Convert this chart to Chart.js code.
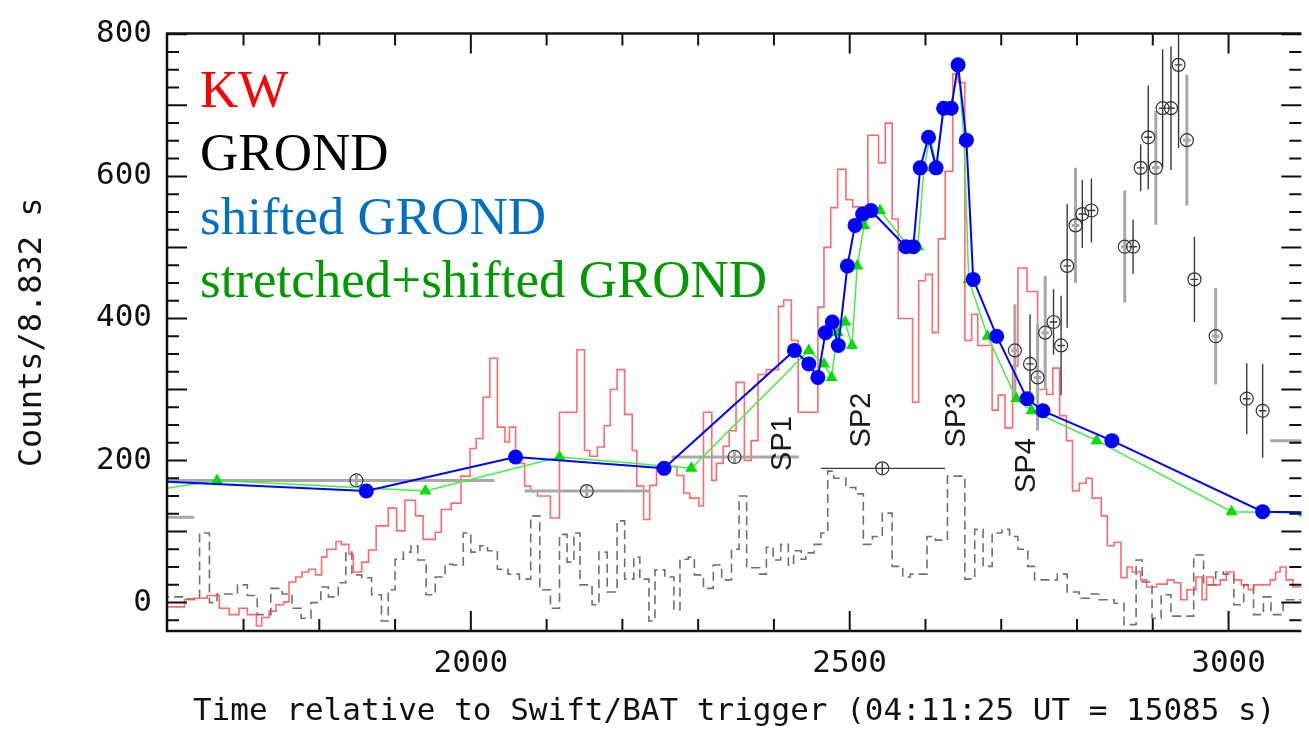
<!DOCTYPE html>
<html>
<head>
<meta charset="utf-8">
<title>KW / GROND light curve</title>
<script src="https://cdn.jsdelivr.net/npm/chart.js@4.4.1/dist/chart.umd.min.js"></script>
<style>
  html, body { margin: 0; padding: 0; background: #fff; }
  #wrap { width: 1309px; height: 731px; }
</style>
</head>
<body>
<div id="wrap"><canvas id="chart" width="1309" height="731"></canvas></div>
<script>
'use strict';

// ---- Axis ranges and tick labels ----
var X_MIN = 1599, X_MAX = 3096;
var Y_MIN = -40, Y_MAX = 801;
var xTickValues = [2000, 2500, 3000];
var yTickValues = [0, 200, 400, 600, 800];
var xTitle = 'Time relative to Swift/BAT trigger (04:11:25 UT = 15085 s)';
var yTitle = 'Counts/8.832 s';

// ---- KW light curve (step histogram: bin start time, counts) ----
var kwT = [1590, 1622, 1635, 1652, 1668, 1681, 1694, 1705, 1717, 1724,
           1734, 1743, 1753, 1760, 1769, 1777, 1786, 1795, 1803, 1810,
           1822, 1829, 1839, 1845, 1856, 1865, 1875, 1891, 1902, 1913,
           1927, 1937, 1953, 1961, 1974, 1987, 1999, 2007, 2016, 2025,
           2035, 2045, 2051, 2059, 2071, 2079, 2088, 2105, 2117, 2140,
           2150, 2157, 2167, 2176, 2184, 2193, 2203, 2213, 2219, 2228,
           2236, 2245, 2272, 2281, 2289, 2301, 2307, 2318, 2324, 2333,
           2341, 2350, 2361, 2370, 2379, 2390, 2406, 2413, 2423, 2432,
           2458, 2466, 2475, 2484, 2495, 2504, 2524, 2538, 2547, 2556,
           2564, 2583, 2591, 2600, 2609, 2617, 2626, 2636, 2643, 2652,
           2661, 2669, 2688, 2696, 2705, 2715, 2722, 2734, 2748, 2760,
           2768, 2777, 2786, 2794, 2803, 2812, 2820, 2832, 2840, 2849,
           2858, 2866, 2873, 2884, 2892, 2905, 2919, 2928, 2937, 2945,
           2957, 2965, 2971, 2980, 2989, 2997, 3007, 3017, 3026, 3033,
           3055, 3062, 3068, 3076, 3085, 3110];
var kwV = [-6, 4, 6, 10, -8, -17, -8, -17, -33, -21,
           -12, -3, 1, 29, 36, 43, 47, 39, 64, 75,
           86, 82, 68, 43, 57, 74, 108, 133, 101, 144,
           122, 89, 99, 131, 140, 178, 217, 231, 289, 344,
           247, 226, 247, 196, 164, 157, 150, 119, 268, 356,
           214, 206, 219, 249, 300, 328, 265, 214, 164, 117,
           165, 192, 179, 154, 147, 136, 268, 172, 196, 220,
           242, 310, 200, 228, 321, 328, 417, 426, 369, 268,
           416, 500, 556, 610, 567, 557, 658, 619, 675, 540,
           400, 282, 453, 462, 380, 512, 607, 744, 732, 369,
           406, 362, 271, 292, 246, 333, 471, 438, 300, 293,
           330, 263, 228, 157, 168, 175, 147, 122, 80, 85,
           35, 50, 43, 32, 22, 26, 32, 28, 4, 18,
           36, 4, 36, 25, 32, 43, 32, 25, 18, 25,
           32, 43, 50, 32, 22, 22];

// ---- Dashed grey histogram (bin start time, counts) ----
var dashT = [1590, 1622, 1642, 1655, 1665, 1692, 1705, 1718, 1736, 1751,
             1764, 1776, 1789, 1802, 1812, 1825, 1835, 1843, 1856, 1869,
             1882, 1891, 1900, 1911, 1921, 1930, 1941, 1953, 1966, 1976,
             1990, 2000, 2012, 2022, 2035, 2049, 2064, 2079, 2091, 2105,
             2117, 2127, 2136, 2144, 2160, 2169, 2180, 2193, 2203, 2215,
             2223, 2235, 2243, 2256, 2268, 2276, 2287, 2295, 2307, 2320,
             2331, 2344, 2354, 2364, 2381, 2390, 2399, 2409, 2419, 2426,
             2436, 2442, 2453, 2462, 2471, 2479, 2495, 2508, 2518, 2530,
             2543, 2556, 2570, 2580, 2602, 2613, 2629, 2652, 2665, 2676,
             2688, 2701, 2711, 2722, 2735, 2744, 2774, 2787, 2803, 2816,
             2829, 2849, 2862, 2878, 2886, 2899, 2911, 2924, 2954, 2967,
             2983, 2993, 3007, 3020, 3033, 3046, 3056, 3072, 3110];
var dashV = [8, 5, 98, 0, 12, 25, 10, -17, 20, 12,
             -8, -22, 0, 22, 8, 28, 71, 39, 35, 11,
             -26, 18, 61, 71, 80, 60, 11, 36, 54, 53,
             98, 71, 80, 73, 47, 40, 33, 122, 18, -8,
             96, 57, 98, 25, -3, 71, 15, 115, 33, 64,
             33, -26, 46, 36, -10, 61, 64, 39, 20, 53,
             32, 75, 150, 49, 40, 78, 60, 82, 53, 73,
             61, 70, 82, 98, 185, 175, 162, 153, 82, 93,
             126, 51, 36, 40, 93, 88, 178, 33, 103, 51,
             98, 103, 93, 75, 51, 32, 40, 15, 6, 12,
             4, -1, -31, 60, 29, -22, 11, -19, 67, 25,
             43, 40, -3, 25, -17, 8, -17, 4, 4];

// ---- GROND points (time, flux, errors, bar style) ----
var grondT = [1500, 1849, 2153, 2348, 2543, 2718, 2738, 2748, 2758, 2769,
              2779, 2787, 2798, 2807, 2819, 2863, 2874, 2884, 2894, 2904,
              2913, 2924, 2934, 2945, 2955, 2983, 3024, 3045, 3136, 3335, 3440];
var grondV = [120, 172, 157, 205, 189, 355, 336, 317, 380, 395,
              362, 474, 531, 547, 552, 501, 501, 612, 655, 612,
              696, 696, 757, 651, 455, 375, 287, 270, 228, 128, 126];
var grondTLo = [135, 260, 82, 83, 81, 5, 5, 5, 5, 5,
                5, 5, 5, 5, 5, 5, 5, 5, 5, 5,
                5, 5, 5, 5, 5, 5, 5, 5, 81, 0, 0];
var grondTHi = [135, 182, 83, 85, 83, 5, 5, 5, 5, 5,
                5, 5, 5, 5, 5, 5, 5, 5, 5, 5,
                5, 5, 5, 5, 5, 5, 5, 5, 81, 0, 0];
var grondErrV = [0, 8, 8, 8, 8, 65, 70, 75, 80, 46,
                 70, 87, 81, 48, 45, 79, 38, 33, 73, 80,
                 83, 87, 117, 92, 60, 68, 50, 66, 0, 0, 0];
var grondBar = ['g', 'g', 'g', 'g', 'k', 'g', 'k', 'g', 'g', 'k',
                'k', 'k', 'g', 'k', 'k', 'g', 'k', 'k', 'k', 'g',
                'k', 'k', 'k', 'g', 'k', 'g', 'k', 'k', 'g', 'k', 'k'];

// ---- Shifted and stretched+shifted GROND times ----
var shiftedT = [1210, 1559, 1862, 2059, 2255, 2427, 2446, 2458, 2468, 2477,
                2485, 2497, 2507, 2517, 2528, 2574, 2584, 2593, 2604, 2614,
                2624, 2634, 2643, 2654, 2663, 2694, 2734, 2755, 2846, 3045, 3150];
var stretchedT = [1350, 1665, 1940, 2117, 2291, 2446, 2466, 2476, 2484, 2494,
                  2503, 2510, 2519, 2528, 2540, 2578, 2590, 2598, 2606, 2615,
                  2623, 2633, 2643, 2651, 2657, 2682, 2720, 2740, 2826, 3004, 3100];

// ---- Spike labels ----
var spLabels = ['SP1', 'SP2', 'SP3', 'SP4'];
var spT = [2412, 2516, 2642, 2734];
var spV = [224, 257, 257, 193];

// ---- Legend lines ----
var legendText = ['KW', 'GROND', 'shifted GROND', 'stretched+shifted GROND'];
var legendColor = ['#ff0000', '#000000', '#0070c0', '#009a00'];

function pts(ts, vs) {
  return ts.map(function(t, i) { return { x: t, y: vs[i] }; });
}

function clipArea(ctx, a) {
  ctx.beginPath();
  ctx.rect(a.left, a.top, a.right - a.left, a.bottom - a.top);
  ctx.clip();
}

function drawErrorBars(chart) {
  var ctx = chart.ctx, xs = chart.scales.x, ys = chart.scales.y;
  ctx.save();
  clipArea(ctx, chart.chartArea);
  grondT.forEach(function(t, i) {
    var gray = grondBar[i] === 'g';
    ctx.strokeStyle = gray ? '#a8a8a8' : '#3a3a3a';
    ctx.lineWidth = gray ? 3 : 1.4;
    var px = xs.getPixelForValue(t);
    var py = ys.getPixelForValue(grondV[i]);
    ctx.beginPath();
    if (grondTLo[i] || grondTHi[i]) {
      ctx.moveTo(xs.getPixelForValue(t - grondTLo[i]), py);
      ctx.lineTo(xs.getPixelForValue(t + grondTHi[i]), py);
    }
    if (grondErrV[i]) {
      ctx.moveTo(px, ys.getPixelForValue(grondV[i] - grondErrV[i]));
      ctx.lineTo(px, ys.getPixelForValue(grondV[i] + grondErrV[i]));
    }
    ctx.stroke();
  });
  ctx.restore();
}

function drawFrame(chart) {
  var ctx = chart.ctx, a = chart.chartArea, xs = chart.scales.x, ys = chart.scales.y;
  ctx.save();
  ctx.strokeStyle = '#111';
  ctx.lineWidth = 2.5;
  ctx.beginPath();
  ctx.moveTo(a.right, a.top);
  ctx.lineTo(a.left, a.top);
  ctx.lineTo(a.left, a.bottom);
  ctx.lineTo(a.right, a.bottom);
  ctx.stroke();

  ctx.lineWidth = 2;
  ctx.beginPath();
  for (var t = 1700; t < X_MAX; t += 100) {
    var lx = t % 500 === 0 ? 20 : 12;
    var x = xs.getPixelForValue(t);
    ctx.moveTo(x, a.bottom); ctx.lineTo(x, a.bottom - lx);
    ctx.moveTo(x, a.top); ctx.lineTo(x, a.top + lx);
  }
  for (var v = -25; v < Y_MAX; v += 25) {
    var ly = v % 100 === 0 ? 20 : 12;
    var y = ys.getPixelForValue(v);
    ctx.moveTo(a.left, y); ctx.lineTo(a.left + ly, y);
    ctx.moveTo(a.right, y); ctx.lineTo(a.right - ly, y);
  }
  ctx.stroke();
  ctx.restore();
}

function drawLegendText(chart) {
  var ctx = chart.ctx;
  ctx.save();
  ctx.font = '53px "Liberation Serif"';
  ctx.textAlign = 'left';
  ctx.textBaseline = 'alphabetic';
  legendText.forEach(function(txt, i) {
    ctx.fillStyle = legendColor[i];
    ctx.fillText(txt, 200, 107 + i * 63.3);
  });
  ctx.restore();
}

function drawSpLabels(chart) {
  var ctx = chart.ctx, xs = chart.scales.x, ys = chart.scales.y;
  ctx.save();
  ctx.font = '29px "Liberation Sans"';
  ctx.fillStyle = '#1a1a1a';
  ctx.textAlign = 'center';
  ctx.textBaseline = 'middle';
  spLabels.forEach(function(lbl, i) {
    ctx.save();
    ctx.translate(xs.getPixelForValue(spT[i]), ys.getPixelForValue(spV[i]));
    ctx.rotate(-Math.PI / 2);
    ctx.fillText(lbl, 0, 0);
    ctx.restore();
  });
  ctx.restore();
}

var framePlugin = {
  id: 'frame',
  beforeDatasetDraw: function(chart, args) {
    if (chart.data.datasets[args.index].label === 'GROND') drawErrorBars(chart);
  },
  afterDraw: function(chart) {
    drawSpLabels(chart);
    drawFrame(chart);
    drawLegendText(chart);
  }
};

var tickFont = { family: 'DejaVu Sans Mono', size: 31 };
function plainTick(v) { return String(v); }

new Chart(document.getElementById('chart'), {
  type: 'line',
  data: {
    datasets: [
      {
        label: 'shifted GROND',
        data: pts(shiftedT, grondV),
        borderColor: '#0000ff',
        borderWidth: 2,
        pointRadius: 7.5,
        pointBackgroundColor: '#0000ff',
        pointBorderWidth: 0,
        clip: 0,
      },
      {
        label: 'stretched+shifted GROND',
        data: pts(stretchedT, grondV),
        borderColor: '#44ee44',
        borderWidth: 1.5,
        pointStyle: 'triangle',
        pointRadius: 7,
        pointBackgroundColor: '#00dd00',
        pointBorderWidth: 0,
        clip: 0,
      },
      {
        label: 'GROND',
        data: pts(grondT, grondV),
        showLine: false,
        pointStyle: 'circle',
        pointRadius: 6.5,
        pointBorderColor: '#333',
        pointBorderWidth: 1.2,
        pointBackgroundColor: 'rgba(0,0,0,0)',
        clip: 0,
      },
      {
        // value of each bin is held from its start time to the next one
        label: 'KW',
        data: pts(kwT, kwV),
        stepped: 'before',
        borderColor: 'rgba(255,70,70,0.8)',
        borderWidth: 1.6,
        pointRadius: 0,
        clip: 0,
      },
      {
        label: 'dashed',
        data: pts(dashT, dashV),
        stepped: 'before',
        borderColor: '#707070',
        borderWidth: 1.6,
        borderDash: [9, 5],
        pointRadius: 0,
        clip: 0,
      },
    ],
  },
  options: {
    responsive: false,
    animation: false,
    devicePixelRatio: 1,
    layout: { padding: { top: 22, right: 0, left: 0, bottom: 0 } },
    plugins: { legend: { display: false }, tooltip: { enabled: false } },
    scales: {
      x: {
        type: 'linear',
        min: X_MIN,
        max: X_MAX,
        grid: { display: false, drawTicks: false },
        border: { display: false },
        afterBuildTicks: function(s) { s.ticks = xTickValues.map(function(v) { return { value: v }; }); },
        afterFit: function(s) { s.height = 100; },
        ticks: { color: '#111', font: tickFont, padding: 14, maxRotation: 0, autoSkip: false, callback: plainTick },
        title: { display: true, text: xTitle, color: '#111', font: { family: 'DejaVu Sans Mono', size: 31 }, padding: { top: 4, bottom: 0 } },
      },
      y: {
        type: 'linear',
        min: Y_MIN,
        max: Y_MAX,
        grid: { display: false, drawTicks: false },
        border: { display: false },
        afterBuildTicks: function(s) { s.ticks = yTickValues.map(function(v) { return { value: v }; }); },
        afterFit: function(s) { s.width = 167; },
        ticks: { color: '#111', font: tickFont, padding: 15, autoSkip: false, callback: plainTick },
        title: { display: true, text: yTitle, color: '#111', font: { family: 'DejaVu Sans Mono', size: 32 }, padding: { top: 13, bottom: 0 } },
      },
    },
  },
  plugins: [framePlugin],
});
</script>
</body>
</html>
